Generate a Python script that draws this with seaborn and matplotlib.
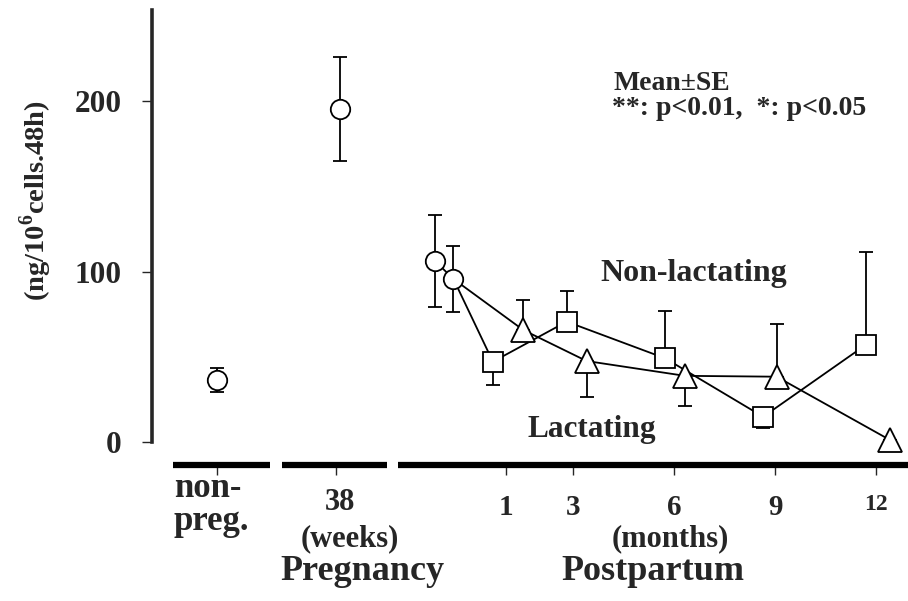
import numpy as np
import pandas as pd
import matplotlib
matplotlib.use("Agg")
import matplotlib.pyplot as plt
import seaborn as sns

# ---------------- data ----------------
# pregnancy-phase points (open circles)
pre_labels = ["non-\npreg.", "38\n(weeks)"]
pre_x = [-7.56, -3.92]
pre_y = [36.4, 195.3]
pre_err = [7.0, 30.5]

# early postpartum points (open circles, connected)
early_x = [-1.10, -0.55]
early_y = [106.2, 95.6]
early_err = [27.0, 19.5]

# postpartum months
month_ticks = [1, 3, 6, 9, 12]
month_labels = ["1", "3", "6", "9", "12"]

# Non-lactating (squares)
nonlact_x = [0.62, 2.81, 5.73, 8.64, 11.68]
nonlact_y = [47.1, 70.6, 49.1, 14.8, 56.9]
nonlact_err_lo = [13.7, 0.0, 0.0, 6.6, 0.0]
nonlact_err_hi = [0.0, 18.0, 27.7, 0.0, 54.7]

# Lactating (triangles)
lact_x = [1.52, 3.40, 6.32, 9.04, 12.40]
lact_y = [65.7, 47.5, 38.8, 38.3, 1.2]
lact_err_lo = [0.0, 20.9, 17.4, 0.0, 0.0]
lact_err_hi = [17.6, 0.0, 0.0, 30.7, 0.0]

y_ticks = [0, 100, 200]

# ---------------- style ----------------
sns.set_style("white")
plt.rcParams["font.family"] = ["Liberation Serif", "DejaVu Serif"]
plt.rcParams["font.weight"] = "bold"
plt.rcParams["mathtext.fontset"] = "custom"
plt.rcParams["mathtext.rm"] = "Liberation Serif:bold"
plt.rcParams["mathtext.bf"] = "Liberation Serif:bold"

W, H = 908, 601
fig = plt.figure(figsize=(W / 100, H / 100), dpi=100)
ax = fig.add_axes([152 / W, 1 - 465 / H, 756 / W, 455 / H])

XMIN, XMAX = -9.496, 12.938
YMIN, YMAX = -13.5, 253.4
ax.set_xlim(XMIN, XMAX)
ax.set_ylim(YMIN, YMAX)

line_kw = dict(color="black", linewidth=1.3, markerfacecolor="white",
               markeredgecolor="black", markeredgewidth=1.3,
               sort=False, estimator=None, ax=ax, legend=False)
err_kw = dict(fmt="none", ecolor="black", elinewidth=1.3, capsize=5,
              capthick=1.3, zorder=1.5)

# Non-lactating: starts from last early point
sq_df = pd.DataFrame({"x": [early_x[-1]] + nonlact_x,
                      "y": [early_y[-1]] + nonlact_y})
ax.errorbar(nonlact_x, nonlact_y, yerr=[nonlact_err_lo, nonlact_err_hi], **err_kw)
sns.lineplot(data=sq_df, x="x", y="y", marker="s", markersize=14,
             markevery=list(range(1, len(sq_df))), zorder=3, **line_kw)

# Lactating
tr_df = pd.DataFrame({"x": [early_x[-1]] + lact_x,
                      "y": [early_y[-1]] + lact_y})
ax.errorbar(lact_x, lact_y, yerr=[lact_err_lo, lact_err_hi], **err_kw)
sns.lineplot(data=tr_df, x="x", y="y", marker="^", markersize=17,
             markevery=list(range(1, len(tr_df))), zorder=3, **line_kw)

# Early postpartum circles
ax.errorbar(early_x, early_y, yerr=early_err, **err_kw)
sns.lineplot(x=early_x, y=early_y, marker="o", markersize=14, zorder=4, **line_kw)

# Pregnancy circles (not connected)
ax.errorbar(pre_x, pre_y, yerr=pre_err, **err_kw)
sns.scatterplot(x=pre_x, y=pre_y, marker="o", s=14 ** 2, facecolor="white",
                edgecolor="black", linewidth=1.3, zorder=4, ax=ax, legend=False)

# ---------------- axes styling ----------------
for s in ["top", "right", "bottom"]:
    ax.spines[s].set_visible(False)
ax.spines["left"].set_linewidth(2.6)
ax.spines["left"].set_bounds(0, YMAX)
ax.set_yticks(y_ticks)
ax.set_yticklabels([str(v) for v in y_ticks], fontsize=22.5, fontweight="bold")
ax.tick_params(axis="y", direction="out", length=7, width=1.0, pad=15, left=True)

# broken x axis
seg_x = [(-8.87, -5.99), (-5.64, -2.52), (-2.20, XMAX + 0.5)]
for a, b in seg_x:
    ax.hlines(YMIN, a, b, color="black", linewidth=4.5, clip_on=False, zorder=5)

xt = [pre_x[0], -4.05] + month_ticks
ax.set_xticks(xt)
ax.set_xticklabels([""] * 2 + month_labels, fontsize=21, fontweight="bold")
ax.tick_params(axis="x", direction="out", length=7, width=1.0, pad=14, bottom=True)
for lab in ax.get_xticklabels():
    if lab.get_text() == "12":
        lab.set_fontsize(17)
ax.set_xlabel("")
ax.set_ylabel("")

def ftext(px, py, s, **kw):
    fig.text(px / W, 1 - py / H, s, fontweight="bold", **kw)

# bottom labels (baseline-anchored)
ftext(174, 497, "non-", fontsize=25, ha="left", va="baseline")
ftext(174, 530, "preg.", fontsize=25, ha="left", va="baseline")
ftext(340, 510, "38", fontsize=22, ha="center", va="baseline")
ftext(350, 546, "(weeks)", fontsize=22, ha="center", va="baseline")
ftext(280, 580, "Pregnancy", fontsize=26, ha="left", va="baseline")
ftext(670, 546, "(months)", fontsize=22, ha="center", va="baseline")
ftext(561, 580, "Postpartum", fontsize=26, ha="left", va="baseline")

# y label
ftext(36, 201, r"(ng/10$^{\mathbf{6}}$cells.48h)", fontsize=20.5, rotation=90,
      ha="center", va="center")

# annotations
ftext(614, 84, "Mean\u00b1SE", fontsize=20, ha="left", va="center")
ftext(612, 108, "**: p<0.01,  *: p<0.05", fontsize=20, ha="left", va="center")
ftext(694, 274, "Non-lactating", fontsize=23, ha="center", va="center")
ftext(592, 430, "Lactating", fontsize=22.5, ha="center", va="center")

fig.savefig("out.png", dpi=100)
